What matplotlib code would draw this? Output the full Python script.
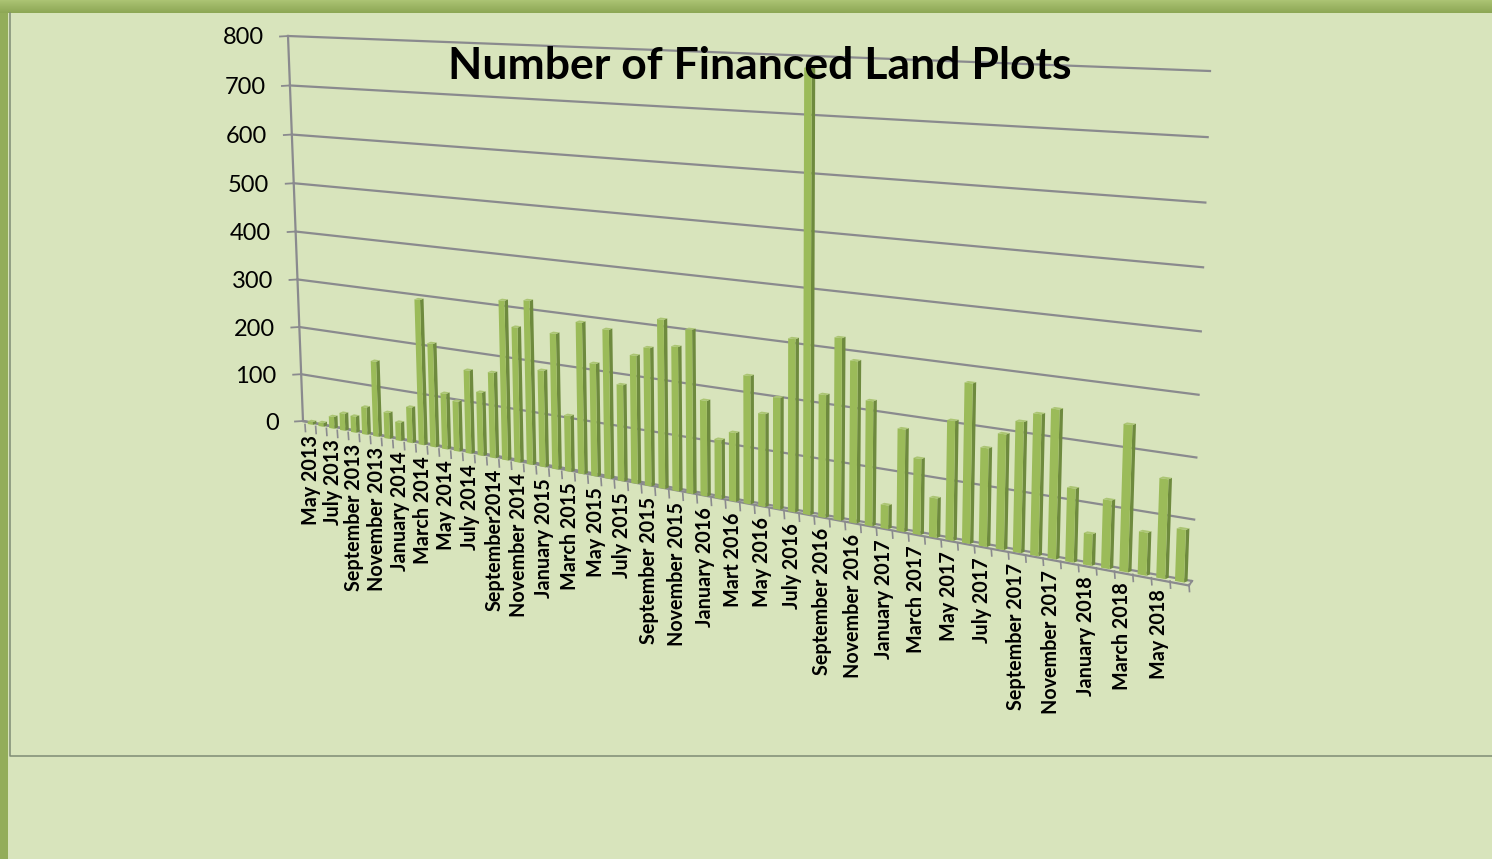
import matplotlib
matplotlib.use('Agg')
import matplotlib.pyplot as plt
import numpy as np

title = 'Number of Financed Land Plots'
y_ticks = [0, 100, 200, 300, 400, 500, 600, 700, 800]
x_labels = ['May 2013', 'July 2013', 'September 2013', 'November 2013', 'January 2014', 'March 2014',
            'May 2014', 'July 2014', 'September2014', 'November 2014', 'January 2015', 'March 2015',
            'May 2015', 'July 2015', 'September 2015', 'November 2015', 'January 2016', 'Mart 2016',
            'May 2016', 'July 2016', 'September 2016', 'November 2016', 'January 2017', 'March 2017',
            'May 2017', 'July 2017', 'September 2017', 'November 2017', 'January 2018', 'March 2018',
            'May 2018']
plots = [6, 8, 25, 36, 34, 57, 156, 54, 38, 73,
         295, 210, 113, 101, 167, 127, 170, 315, 266, 321,
         189, 264, 109, 292, 217, 285, 184, 243, 261, 317,
         270, 305, 178, 110, 127, 235, 170, 203, 312, 784,
         220, 324, 287, 221, 42, 180, 133, 69, 207, 275,
         169, 197, 222, 239, 251, 124, 53, 114, 242, 71,
         163, 86]
months = len(plots)

# the chart is a tilted 3d one, so map (month, value) to pixels with a homography
corners_dst = [(303, 421), (1192, 581), (288, 36), (1210, 71)]
A = []
b = []
for (u, w), (px, py) in zip([(0, 0), (1, 0), (0, 1), (1, 1)], corners_dst):
    A.append([u, w, 1, 0, 0, 0, -u*px, -w*px])
    b.append(px)
    A.append([0, 0, 0, u, w, 1, -u*py, -w*py])
    b.append(py)
H = np.append(np.linalg.solve(np.array(A, float), np.array(b, float)), 1).reshape(3, 3)


def project(m, v):
    p = H @ np.array([m/months, v/y_ticks[-1], 1.0])
    return p[0]/p[2], p[1]/p[2]


def bar_point(m, v):
    # bars stand a little in front of the back wall
    x, y = project(m, v)
    return x + np.interp(m, [0, 20, 40, months], [2, -1.5, -2.5, -3]), y + 2.5


BG = '#D8E4BC'
GRID = '#8A8A8E'
fig = plt.figure(figsize=(14.92, 8.59), dpi=100, facecolor=BG)
ax = fig.add_axes([0, 0, 1, 1])

# window frame
ax.imshow(np.linspace(0, 1, 12).reshape(-1, 1), extent=[0, 1492, 13, 0], aspect='auto', zorder=1,
          cmap=matplotlib.colors.LinearSegmentedColormap.from_list('bar', ['#ABC373', '#8DA755']))
ax.fill_between([0, 8], 13, 859, color='#93AD5A', lw=0, zorder=1)
ax.plot([9.5, 9.5, 1492], [13, 756, 756], color='#7F8C75', lw=1.1, zorder=1)
ax.set_xlim(0, 1492)
ax.set_ylim(859, 0)
ax.axis('off')

# grid and axis lines
for t in y_ticks:
    x0, y0 = project(0, t)
    x1, y1 = project(months, t)
    ax.plot([x0, x1], [y0, y1], color=GRID, lw=1.6, zorder=2)
    ax.plot([x0-8, x0], [y0+0.5, y0], color=GRID, lw=1.3, zorder=2)
    ax.text(x0-24.5, y0+2, str(t), ha='right', va='center', family='Lato', fontsize=17, color='black', zorder=6)
x0, y0 = project(0, 0)
x1, y1 = project(0, y_ticks[-1])
ax.plot([x0, x1], [y0, y1], color=GRID, lw=1.6, zorder=2)

# floor front edge and month ticks
x0, y0 = bar_point(0, 0)
x1, y1 = bar_point(months, 0)
ax.plot([project(0, 0)[0], x1], [project(0, 0)[1], y1+2], color=GRID, lw=1.6, zorder=2)
ax.plot([project(months, 0)[0], x1], [project(months, 0)[1], y1+2], color=GRID, lw=1.4, zorder=2)
for m in range(months+1):
    x, y = bar_point(m, 0)
    ax.plot([x, x+0.5], [y+1, y+8], color=GRID, lw=1.2, zorder=2)

# bars
half = 0.24
dx, dy = 3.5, -1.5
for i, v in enumerate(plots):
    xa, ya = bar_point(i+.5-half, 0)
    xb, yb = bar_point(i+.5+half, 0)
    xc, yc = bar_point(i+.5+half, v)
    xd, yd = bar_point(i+.5-half, v)
    ax.fill([xb, xb+dx, xc+dx, xc], [yb, yb+dy, yc+dy, yc], color='#6E8A3E', lw=0, zorder=3+i*0.01)
    ax.fill([xa, xb, xc, xd], [ya, yb, yc, yd], color='#9BBB59', lw=0, zorder=3+i*0.01)
    ax.fill([xd, xc, xc+dx, xd+dx], [yd, yc, yc+dy, yd+dy], color='#ABC573', lw=0, zorder=3+i*0.01)

# month labels, one every two months
for i, lab in enumerate(x_labels):
    x, y = project(2*i+.5, 0)
    ax.text(x+2.5-7*i/30, y+13.5, lab, rotation=90, ha='center', va='top', family='Lato', fontweight='bold',
            fontsize=14.2, color='black', zorder=6)

ax.text(760, 66, title, ha='center', va='center', family='Lato', fontweight='bold', fontsize=32,
        color='black', zorder=7)
fig.savefig('out.png', dpi=100)
